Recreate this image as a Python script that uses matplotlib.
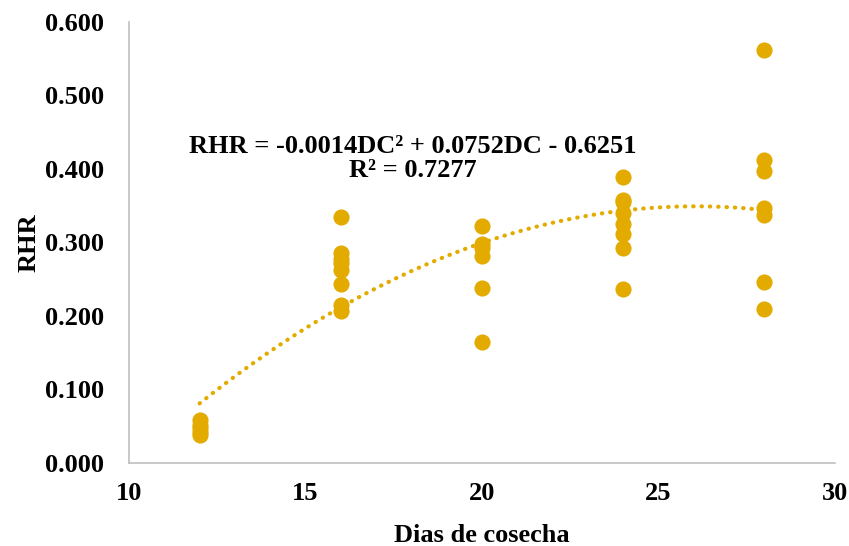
import numpy as np
import matplotlib
matplotlib.use("Agg")
from matplotlib import pyplot as plt

plt.rcParams['font.family'] = ['Liberation Serif', 'DejaVu Serif']
plt.rcParams['font.weight'] = 'bold'

dias = [12] * 5 + [16] * 8 + [20] * 6 + [24] * 8 + [28] * 7
rhr = [0.058, 0.052, 0.047, 0.042, 0.038,
       0.335, 0.285, 0.278, 0.272, 0.262, 0.243, 0.215, 0.207,
       0.323, 0.298, 0.293, 0.281, 0.238, 0.165,
       0.389, 0.358, 0.355, 0.340, 0.325, 0.312, 0.292, 0.236,
       0.562, 0.412, 0.397, 0.347, 0.337, 0.246, 0.210]
color = '#E3AB00'

fig = plt.figure(figsize=(8.49, 5.46), dpi=100)
ax = fig.add_axes([0.152, 0.152, 0.831, 0.808])

ax.scatter(dias, rhr, s=135, color=color, zorder=3, linewidths=0)

# linea de tendencia polinomica
coef = np.polyfit(dias, rhr, 2)
xs = np.linspace(min(dias), max(dias), 300)
ax.plot(xs, np.polyval(coef, xs), color=color, linestyle=(0, (0.1, 1.9)),
        linewidth=3.0, dash_capstyle='round', zorder=2)

ax.text(0.402, 0.69, "RHR = -0.0014DC\u00b2 + 0.0752DC - 0.6251\nR\u00b2 = 0.7277",
        transform=ax.transAxes, ha='center', va='center', fontsize=19,
        fontweight='bold', linespacing=1.05)

ax.set_xlim(10, 30)
ax.set_ylim(0, 0.6)
ax.set_xticks([10, 15, 20, 25, 30])
ax.set_yticks(np.arange(0, 0.61, 0.1))
ax.yaxis.set_major_formatter(matplotlib.ticker.FormatStrFormatter('%.3f'))
ax.tick_params(axis='y', length=0, labelsize=19, pad=18)
ax.tick_params(axis='x', length=0, labelsize=19, pad=14)
for lab in ax.get_xticklabels() + ax.get_yticklabels():
    lab.set_fontweight('bold')

ax.set_xlabel("Dias de cosecha", fontsize=19, fontweight='bold', labelpad=13)
ax.set_ylabel("RHR", fontsize=19, fontweight='bold', labelpad=3)

for side in ['top', 'right']:
    ax.spines[side].set_visible(False)
for side in ['left', 'bottom']:
    ax.spines[side].set_color('#BFBFBF')
    ax.spines[side].set_linewidth(1.2)

fig.savefig('out.png', dpi=100)
